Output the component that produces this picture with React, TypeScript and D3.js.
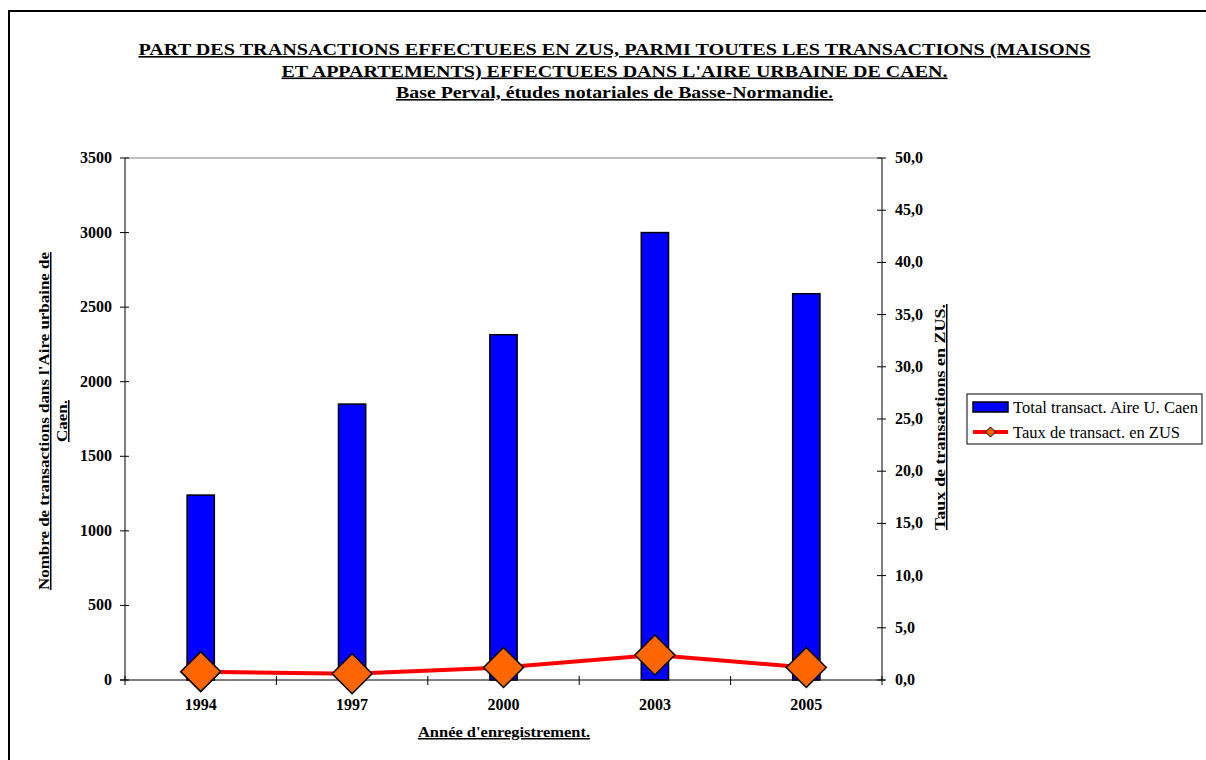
import React from "react";
import * as d3 from "d3";

const categories = ["1994", "1997", "2000", "2003", "2005"];
const totalTransactions = [1240, 1850, 2315, 3000, 2590];
const zusRate = [0.8, 0.6, 1.2, 2.4, 1.2];
const leftTicks = [0, 500, 1000, 1500, 2000, 2500, 3000, 3500];
const rightTicks = [0, 5, 10, 15, 20, 25, 30, 35, 40, 45, 50];
const titleLines = [
  "PART DES TRANSACTIONS EFFECTUEES EN ZUS, PARMI TOUTES LES TRANSACTIONS (MAISONS",
  "ET APPARTEMENTS) EFFECTUEES DANS L'AIRE URBAINE DE CAEN.",
  "Base Perval, études notariales de Basse-Normandie.",
];
const titleWidths = [952, 666, 437];
const leftTitle = ["Nombre de transactions dans l'Aire urbaine de", "Caen."];
const rightTitle = "Taux de transactions en ZUS.";
const xTitle = "Année d'enregistrement.";
const legendLabels = ["Total transact. Aire U. Caen", "Taux de transact. en ZUS"];

const FONT = "'Liberation Serif', 'Times New Roman', serif";

export default function App() {
  const W = 1206, H = 760;
  const left = 125, right = 882, top = 158, bottom = 680;
  const x = d3.scaleBand().domain(categories).range([left, right]).paddingInner(0).paddingOuter(0);
  const yL = d3.scaleLinear().domain([0, 3500]).range([bottom, top]);
  const yR = d3.scaleLinear().domain([0, 50]).range([bottom, top]);
  const barW = x.bandwidth() * 0.18;
  const cx = (c: string) => (x(c) as number) + x.bandwidth() / 2;
  const line = d3.line<number>().x((_, i) => cx(categories[i])).y((d) => yR(d));
  const diamond = (px: number, py: number, r: number) =>
    `M${px},${py - r}L${px + r},${py}L${px},${py + r}L${px - r},${py}Z`;
  const fmt = (v: number) => v.toFixed(1).replace(".", ",");
  const boundaries = d3.range(categories.length + 1).map((i) => left + i * x.bandwidth());

  return (
    <svg width={W} height={H} style={{ position: "absolute", left: 0, top: 0, background: "#fff", overflow: "hidden" }} fontFamily={FONT}>
      <path d={`M9,${H}V11H${W}`} fill="none" stroke="#000" strokeWidth={2} />
      {titleLines.map((t, i) => (
        <text key={i} x={614.5} y={55 + i * 21.5} textAnchor="middle" fontWeight="bold" fontSize={16}
          textDecoration="underline" textLength={titleWidths[i]} lengthAdjust="spacingAndGlyphs">
          {t}
        </text>
      ))}
      <line x1={left} x2={right} y1={top} y2={top} stroke="#808080" strokeWidth={1} />
      {categories.map((c, i) => (
        <rect key={c} x={cx(c) - barW / 2} y={yL(totalTransactions[i])} width={barW}
          height={bottom - yL(totalTransactions[i])} fill="#0000FF" stroke="#000" strokeWidth={1.5} />
      ))}
      <line x1={left} x2={left} y1={top} y2={bottom} stroke="#000" />
      <line x1={right} x2={right} y1={top} y2={bottom} stroke="#000" />
      <line x1={left - 5} x2={right + 3} y1={bottom} y2={bottom} stroke="#000" />
      {leftTicks.map((t) => (
        <g key={t}>
          <line x1={left - 5} x2={left + 4} y1={yL(t)} y2={yL(t)} stroke="#000" />
          <text x={112} y={yL(t) + 5} textAnchor="end" fontWeight="bold" fontSize={16}>{t}</text>
        </g>
      ))}
      {rightTicks.map((t) => (
        <g key={t}>
          <line x1={right - 5} x2={right + 4} y1={yR(t)} y2={yR(t)} stroke="#000" />
          <text x={895} y={yR(t) + 5} textAnchor="start" fontWeight="bold" fontSize={16}>{fmt(t)}</text>
        </g>
      ))}
      {boundaries.map((b, i) => (
        <line key={i} x1={b} x2={b} y1={bottom - 4} y2={bottom + 5} stroke="#000" />
      ))}
      {categories.map((c) => (
        <text key={c} x={cx(c)} y={710} textAnchor="middle" fontWeight="bold" fontSize={16}>{c}</text>
      ))}
      <text x={504} y={737} textAnchor="middle" fontWeight="bold" fontSize={15} textDecoration="underline"
        textLength={172} lengthAdjust="spacingAndGlyphs">
        {xTitle}
      </text>
      <g transform={`translate(49,421) rotate(-90)`}>
        <text x={0} y={0} textAnchor="middle" fontWeight="bold" fontSize={15} textDecoration="underline"
          textLength={338} lengthAdjust="spacingAndGlyphs">
          {leftTitle[0]}
        </text>
        <text x={0} y={18} textAnchor="middle" fontWeight="bold" fontSize={15} textDecoration="underline"
          textLength={42} lengthAdjust="spacingAndGlyphs">
          {leftTitle[1]}
        </text>
      </g>
      <g transform={`translate(945,417) rotate(-90)`}>
        <text x={0} y={0} textAnchor="middle" fontWeight="bold" fontSize={15} textDecoration="underline"
          textLength={226} lengthAdjust="spacingAndGlyphs">
          {rightTitle}
        </text>
      </g>
      <path d={line(zusRate) || ""} fill="none" stroke="#FF0000" strokeWidth={4} />
      {zusRate.map((v, i) => (
        <path key={i} d={diamond(cx(categories[i]), yR(v), 20)} fill="#FF6600" stroke="#000" strokeWidth={1.5} />
      ))}
      <rect x={967} y={394} width={235} height={50} fill="#fff" stroke="#000" strokeWidth={1} />
      <rect x={973} y={402} width={35} height={10} fill="#0000FF" stroke="#000" strokeWidth={1.5} />
      <text x={1013} y={413} fontSize={16} textLength={185} lengthAdjust="spacingAndGlyphs">{legendLabels[0]}</text>
      <line x1={973} x2={1008} y1={432} y2={432} stroke="#FF0000" strokeWidth={4} />
      <path d={diamond(990.5, 432, 5)} fill="#FF6600" stroke="#000" strokeWidth={1} />
      <text x={1013} y={438} fontSize={16} textLength={167} lengthAdjust="spacingAndGlyphs">{legendLabels[1]}</text>
    </svg>
  );
}
